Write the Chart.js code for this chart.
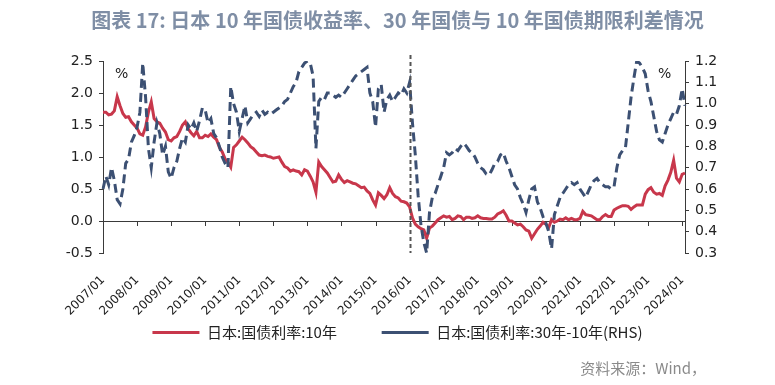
<!DOCTYPE html>
<html>
<head>
<meta charset="utf-8">
<script src="https://cdn.jsdelivr.net/npm/chart.js@4.4.1/dist/chart.umd.min.js"></script>
<style>
    html, body { margin: 0; padding: 0; background: #fff; }
    #wrap { width: 775px; height: 385px; }
</style>
</head>
<body>
<div id="wrap"><canvas id="chart"></canvas></div>
<script>
const titleText = '图表 17: 日本 10 年国债收益率、30 年国债与 10 年国债期限利差情况';
const sourceText = '资料来源：Wind，';
const seriesNames = ['日本:国债利率:10年', '日本:国债利率:30年-10年(RHS)'];
const firstYear = 2007;
const eventMonth = '2016/01';

// monthly, 2007/01 .. 2024/02, %
const yield10y = [
    1.70, 1.70, 1.66, 1.67, 1.72, 1.94, 1.80, 1.68, 1.62, 1.63, 1.55, 1.50,
    1.45, 1.36, 1.34, 1.47, 1.70, 1.86, 1.60, 1.55, 1.53, 1.45, 1.39, 1.27,
    1.25, 1.30, 1.32, 1.40, 1.50, 1.55, 1.44, 1.38, 1.33, 1.40, 1.30, 1.30,
    1.34, 1.32, 1.36, 1.31, 1.27, 1.15, 1.08, 0.97, 0.92, 0.84, 1.15, 1.19,
    1.25, 1.31, 1.27, 1.22, 1.16, 1.13, 1.08, 1.03, 1.02, 1.03, 1.01, 1.00,
    0.98, 0.99, 1.00, 0.92, 0.85, 0.83, 0.78, 0.80, 0.78, 0.77, 0.72, 0.80,
    0.78, 0.70, 0.61, 0.45, 0.92, 0.85, 0.80, 0.75, 0.68, 0.61, 0.62, 0.72,
    0.65, 0.60, 0.63, 0.61, 0.59, 0.58, 0.55, 0.52, 0.53, 0.47, 0.43, 0.33,
    0.25, 0.44, 0.40, 0.35, 0.41, 0.52, 0.43, 0.38, 0.36, 0.31, 0.30, 0.28,
    0.22, 0.05, -0.05, -0.09, -0.12, -0.14, -0.27, -0.11, -0.08, -0.03, 0.02, 0.05,
    0.08, 0.06, 0.07, 0.02, 0.04, 0.08, 0.07, 0.02, 0.06, 0.06, 0.04, 0.05,
    0.08, 0.05, 0.04, 0.04, 0.03, 0.03, 0.06, 0.11, 0.13, 0.16, 0.09, 0.00,
    0.00, -0.03, -0.06, -0.05, -0.09, -0.14, -0.16, -0.27, -0.20, -0.13, -0.08, -0.02,
    -0.05, -0.10, 0.02, -0.02, 0.00, 0.03, 0.02, 0.05, 0.02, 0.04, 0.02, 0.02,
    0.04, 0.15, 0.10, 0.09, 0.08, 0.05, 0.02, 0.02, 0.07, 0.10, 0.07, 0.07,
    0.17, 0.20, 0.22, 0.24, 0.24, 0.23, 0.18, 0.22, 0.25, 0.25, 0.25, 0.42,
    0.49, 0.52, 0.45, 0.42, 0.43, 0.40, 0.55, 0.64, 0.76, 0.95, 0.67, 0.61,
    0.73, 0.75
];

// 30Y minus 10Y spread, %, right axis
const spread30y10y = [
    0.60, 0.66, 0.62, 0.70, 0.64, 0.55, 0.53, 0.60, 0.72, 0.74, 0.82, 0.85,
    0.89, 0.96, 1.19, 1.03, 0.79, 0.70, 0.82, 0.91, 0.86, 0.76, 0.80, 0.68,
    0.65, 0.70, 0.73, 0.79, 0.84, 0.82, 0.90, 0.88, 0.91, 0.87, 0.92, 0.98,
    0.97, 0.91, 0.93, 0.86, 0.84, 0.80, 0.75, 0.72, 0.70, 1.08, 1.00, 0.96,
    0.87, 0.93, 0.99, 0.91, 0.93, 0.95, 0.96, 0.94, 0.97, 0.95, 0.96, 0.95,
    0.96, 0.97, 0.98, 0.99, 1.01, 1.02, 1.05, 1.08, 1.10, 1.15, 1.17, 1.19,
    1.20, 1.19, 1.13, 0.79, 1.01, 1.03, 1.02, 1.05, 1.05, 1.04, 1.03, 1.04,
    1.03, 1.05, 1.07, 1.09, 1.11, 1.13, 1.14, 1.15, 1.16, 1.17, 1.05, 1.01,
    0.89, 1.07, 1.09, 0.96, 1.02, 1.04, 1.01, 1.03, 1.05, 1.04, 1.07, 1.05,
    1.10, 0.91, 0.76, 0.57, 0.43, 0.35, 0.30, 0.49, 0.56, 0.58, 0.62, 0.66,
    0.70, 0.77, 0.76, 0.77, 0.79, 0.78, 0.80, 0.815, 0.80, 0.78, 0.77, 0.75,
    0.72, 0.70, 0.69, 0.67, 0.665, 0.69, 0.72, 0.73, 0.76, 0.77, 0.73, 0.70,
    0.66, 0.62, 0.60, 0.56, 0.53, 0.49, 0.55, 0.60, 0.61, 0.54, 0.51, 0.47,
    0.44, 0.40, 0.32, 0.48, 0.52, 0.56, 0.58, 0.60, 0.62, 0.63, 0.62, 0.63,
    0.60, 0.58, 0.56, 0.59, 0.62, 0.64, 0.65, 0.63, 0.62, 0.61, 0.61, 0.60,
    0.61, 0.70, 0.76, 0.78, 0.79, 0.91, 1.03, 1.12, 1.20, 1.19, 1.17, 1.14,
    1.06, 1.01, 0.94, 0.87, 0.83, 0.82, 0.86, 0.90, 0.93, 0.96, 0.95, 0.99,
    1.07, 0.99
];

const leftTicks = { min: -0.5, max: 2.5, step: 0.5 };
const rightTicks = { min: 0.3, max: 1.2, step: 0.1 };

const months = [];
for (let i = 0; i < yield10y.length; i++) {
    const y = firstYear + Math.floor(i / 12);
    const m = (i % 12) + 1;
    months.push(`${y}/${String(m).padStart(2, '0')}`);
}

const axisColor = '#3a3a3a';
const textColor = '#222';
const tickFont = { family: 'DejaVu Sans', size: 14 };

// zero line with year ticks, event marker, % units and source note
const decorations = {
    id: 'decorations',
    beforeDatasetsDraw(chart) {
        const { ctx, chartArea, scales } = chart;
        const y0 = scales.y.getPixelForValue(0);

        ctx.save();
        ctx.strokeStyle = axisColor;
        ctx.lineWidth = 1;
        ctx.beginPath();
        ctx.moveTo(chartArea.left, y0 + 0.5);
        ctx.lineTo(chartArea.right, y0 + 0.5);
        months.forEach((label, i) => {
            if (label.endsWith('/01')) {
                const x = Math.round(scales.x.getPixelForValue(i)) + 0.5;
                ctx.moveTo(x, y0);
                ctx.lineTo(x, y0 + 5);
            }
        });
        ctx.stroke();
        ctx.restore();
    },
    afterDatasetsDraw(chart) {
        const { ctx, chartArea, scales } = chart;
        const xe = Math.round(scales.x.getPixelForValue(months.indexOf(eventMonth))) + 0.5;

        ctx.save();
        ctx.strokeStyle = '#555';
        ctx.lineWidth = 2;
        ctx.setLineDash([4, 3]);
        ctx.beginPath();
        ctx.moveTo(xe, chartArea.top - 6);
        ctx.lineTo(xe, chartArea.bottom);
        ctx.stroke();
        ctx.restore();
    },
    afterDraw(chart) {
        const { ctx, chartArea } = chart;

        ctx.save();
        ctx.fillStyle = textColor;
        ctx.font = '14px "DejaVu Sans"';
        ctx.textBaseline = 'middle';
        ctx.textAlign = 'left';
        ctx.fillText('%', chartArea.left + 12, chartArea.top + 13);
        ctx.fillText('%', chartArea.right - 27, chartArea.top + 13);

        ctx.fillStyle = '#8a8a8a';
        ctx.font = '15px "Noto Sans CJK SC"';
        ctx.textAlign = 'right';
        ctx.fillText(sourceText, chart.width - 69, chart.height - 17);
        ctx.restore();
    },
};

new Chart(document.getElementById('chart'), {
    type: 'line',
    data: {
        labels: months,
        datasets: [
            {
                label: seriesNames[0],
                data: yield10y,
                yAxisID: 'y',
                order: 1,
                borderColor: '#c8374b',
                backgroundColor: '#c8374b',
                borderWidth: 3,
                pointRadius: 0,
                pointStyle: 'line',
                tension: 0,
            },
            {
                label: seriesNames[1],
                data: spread30y10y,
                yAxisID: 'y1',
                order: 0,
                borderColor: '#3c5073',
                backgroundColor: '#3c5073',
                borderWidth: 3,
                borderDash: [9, 5],
                pointRadius: 0,
                pointStyle: 'line',
                tension: 0,
            },
        ],
    },
    options: {
        responsive: true,
        maintainAspectRatio: false,
        animation: false,
        layout: { padding: { top: 0, left: 20, right: 0, bottom: 35 } },
        scales: {
            x: {
                type: 'category',
                grid: { display: false },
                border: { display: false },
                ticks: {
                    autoSkip: false,
                    minRotation: 45,
                    maxRotation: 45,
                    padding: 12,
                    color: textColor,
                    font: { family: 'DejaVu Sans', size: 12 },
                    callback(value) {
                        const label = this.getLabelForValue(value);
                        return label.endsWith('/01') ? label : null;
                    },
                },
                afterFit(scale) {
                    scale.height = 64;
                },
            },
            y: {
                position: 'left',
                min: leftTicks.min,
                max: leftTicks.max,
                ticks: {
                    stepSize: leftTicks.step,
                    padding: 6,
                    color: textColor,
                    font: tickFont,
                    callback: (v) => v.toFixed(1),
                },
                grid: { drawOnChartArea: false, tickLength: 4, color: axisColor },
                border: { color: axisColor },
                afterFit(scale) {
                    scale.width = 83;
                },
            },
            y1: {
                position: 'right',
                min: rightTicks.min,
                max: rightTicks.max,
                ticks: {
                    stepSize: rightTicks.step,
                    padding: 6,
                    color: textColor,
                    font: tickFont,
                    callback: (v) => v.toFixed(1),
                },
                grid: { drawOnChartArea: false, tickLength: 4, color: axisColor },
                border: { color: axisColor },
                afterFit(scale) {
                    scale.width = 90;
                },
            },
        },
        plugins: {
            title: {
                display: true,
                text: titleText,
                color: '#7f8ea5',
                font: { family: 'Noto Sans CJK SC', size: 20, weight: 'bold' },
                padding: { top: 8, bottom: 29 },
            },
            legend: {
                position: 'bottom',
                labels: {
                    usePointStyle: true,
                    pointStyleWidth: 47,
                    padding: 8,
                    color: textColor,
                    font: { family: 'Noto Sans CJK SC', size: 15 },
                    generateLabels(chart) {
                        const items = Chart.defaults.plugins.legend.labels.generateLabels(chart)
                            .sort((a, b) => a.datasetIndex - b.datasetIndex);
                        // widen the gap between the two entries
                        items[0].text += '\u3000\u3000  ';
                        return items;
                    },
                },
            },
            tooltip: { enabled: false },
        },
    },
    plugins: [decorations],
});
</script>
</body>
</html>
